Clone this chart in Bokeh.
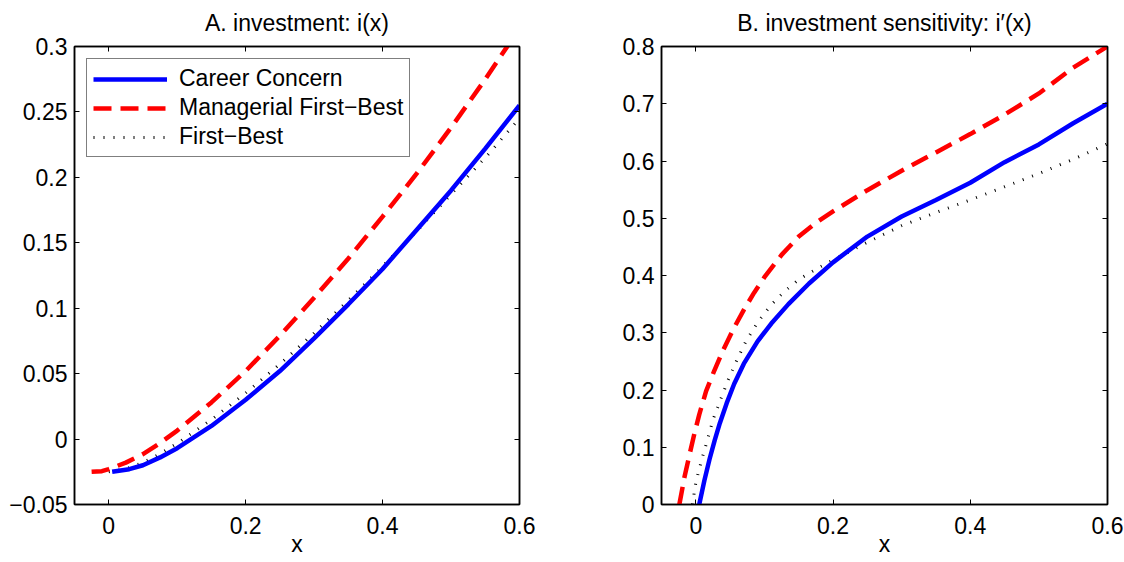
from bokeh.plotting import figure
from bokeh.layouts import row
from bokeh.models import Range1d, LinearAxis, FixedTicker, Legend, LegendItem
from bokeh.embed import file_html
from bokeh.resources import INLINE

# ---------------- data ----------------
x_ticks = [0, 0.2, 0.4, 0.6]
x_tick_labels = ["0", "0.2", "0.4", "0.6"]

a_y_ticks = [-0.05, 0, 0.05, 0.1, 0.15, 0.2, 0.25, 0.3]
a_y_tick_labels = ["\u22120.05", "0", "0.05", "0.1", "0.15", "0.2", "0.25", "0.3"]
b_y_ticks = [0, 0.1, 0.2, 0.3, 0.4, 0.5, 0.6, 0.7, 0.8]
b_y_tick_labels = ["0", "0.1", "0.2", "0.3", "0.4", "0.5", "0.6", "0.7", "0.8"]

title_a = "A. investment: i(x)"
title_b = "B. investment sensitivity: i\u2032(x)"
x_label = "x"
series_names = ["Career Concern", "Managerial First\u2212Best", "First\u2212Best"]

# Panel A: investment i(x)
a_cc_x = [0.005, 0.03, 0.05, 0.075, 0.1, 0.15, 0.2, 0.25, 0.3, 0.35, 0.4, 0.45, 0.5, 0.55, 0.6]
a_cc_y = [-0.025, -0.023, -0.020, -0.014, -0.007, 0.010, 0.030, 0.052, 0.077, 0.103, 0.130, 0.160, 0.190, 0.222, 0.255]
a_mfb_x = [-0.025, -0.01, 0, 0.025, 0.05, 0.075, 0.1, 0.15, 0.2, 0.25, 0.3, 0.35, 0.4, 0.45, 0.5, 0.55, 0.6]
a_mfb_y = [-0.025, -0.0245, -0.023, -0.018, -0.0115, -0.003, 0.0065, 0.028, 0.052, 0.079, 0.108, 0.138, 0.170, 0.203, 0.238, 0.275, 0.314]
a_fb_x = [0, 0.025, 0.05, 0.075, 0.1, 0.15, 0.2, 0.25, 0.3, 0.35, 0.4, 0.45, 0.5, 0.55, 0.6]
a_fb_y = [-0.025, -0.0227, -0.018, -0.0112, -0.0033, 0.0148, 0.0352, 0.0573, 0.081, 0.106, 0.132, 0.159, 0.187, 0.215, 0.245]

# Panel B: investment sensitivity i'(x)
b_cc_x = [0.005, 0.0125, 0.02, 0.0275, 0.035, 0.045, 0.056, 0.07, 0.09, 0.11, 0.135, 0.165, 0.2,
          0.25, 0.3, 0.35, 0.4, 0.45, 0.5, 0.55, 0.6]
b_cc_y = [0, 0.042, 0.079, 0.112, 0.142, 0.177, 0.211, 0.246, 0.285, 0.316, 0.350, 0.386, 0.423,
          0.468, 0.503, 0.532, 0.562, 0.598, 0.629, 0.666, 0.70]
b_mfb_x = [-0.024, -0.0165, -0.009, -0.002, 0.005, 0.015, 0.027, 0.04, 0.055, 0.07, 0.085, 0.1,
           0.125, 0.15, 0.175, 0.2, 0.25, 0.3, 0.35, 0.4, 0.45, 0.5, 0.55, 0.6]
b_mfb_y = [0, 0.048, 0.088, 0.124, 0.157, 0.198, 0.234, 0.27, 0.307, 0.34, 0.37, 0.397,
           0.436, 0.468, 0.492, 0.512, 0.549, 0.583, 0.615, 0.647, 0.681, 0.718, 0.763, 0.80]
b_fb_x = [-0.005, 0.0, 0.005, 0.01, 0.0175, 0.025, 0.037, 0.047, 0.059, 0.073, 0.09, 0.11, 0.13,
          0.15, 0.175, 0.2, 0.25, 0.3, 0.35, 0.4, 0.45, 0.5, 0.55, 0.6]
b_fb_y = [0, 0.038, 0.062, 0.084, 0.115, 0.148, 0.186, 0.217, 0.25, 0.285, 0.318, 0.349, 0.373,
          0.393, 0.411, 0.427, 0.458, 0.487, 0.51, 0.532, 0.555, 0.578, 0.603, 0.63]

# ---------------- styling ----------------
FONT = "Liberation Sans"
FS = "23px"


def make_fig(title, y_range, y_ticks, y_labels, width, b_left, b_right):
    p = figure(width=width, height=562,
               x_range=Range1d(-0.05, 0.6), y_range=Range1d(*y_range),
               output_backend="svg", toolbar_location=None,
               min_border_left=b_left, min_border_right=b_right,
               min_border_top=46, min_border_bottom=58,
               background_fill_color="white", border_fill_color="white")
    p.grid.visible = False
    p.outline_line_color = "black"
    p.outline_line_width = 1.5

    p.title.text = title
    p.title.align = "center"
    p.title.vertical_align = "top"
    p.title.text_font = FONT
    p.title.text_font_size = FS
    p.title.text_font_style = "normal"
    p.title.text_color = "black"
    p.title.standoff = 17

    xa = p.xaxis[0]
    xa.ticker = FixedTicker(ticks=x_ticks)
    xa.major_label_overrides = {t: l for t, l in zip(x_ticks, x_tick_labels)}
    xa.major_label_standoff = 12
    xa.axis_label = x_label
    xa.axis_label_text_font = FONT
    xa.axis_label_text_font_size = FS
    xa.axis_label_text_font_style = "normal"
    xa.axis_label_text_color = "black"
    xa.axis_label_standoff = -6

    ya = p.yaxis[0]
    ya.ticker = FixedTicker(ticks=y_ticks)
    ya.major_label_overrides = {t: l for t, l in zip(y_ticks, y_labels)}
    ya.major_label_standoff = 7

    for ax in (xa, ya):
        ax.major_label_text_font = FONT
        ax.major_label_text_font_size = FS
        ax.major_label_text_color = "black"
        ax.major_tick_in = 5
        ax.major_tick_out = 0
        ax.minor_tick_in = 0
        ax.minor_tick_out = 0
        ax.axis_line_width = 1.5
        ax.major_tick_line_width = 1

    top = LinearAxis(ticker=FixedTicker(ticks=x_ticks),
                     major_label_text_color=None, major_label_text_font_size="0px",
                     major_label_standoff=0, major_tick_in=5, major_tick_out=0,
                     minor_tick_in=0, minor_tick_out=0, axis_line_width=1.5)
    right = LinearAxis(ticker=FixedTicker(ticks=y_ticks),
                       major_label_text_color=None, major_label_text_font_size="0px",
                       major_label_standoff=0, major_tick_in=5, major_tick_out=0,
                       minor_tick_in=0, minor_tick_out=0, axis_line_width=1.5)
    p.add_layout(top, "above")
    p.add_layout(right, "right")
    return p


def add_series(p, cc, mfb, fb):
    r_fb = p.line(fb[0], fb[1], line_color="black", line_width=3,
                  line_dash="1 9", line_cap="butt")
    r_mfb = p.line(mfb[0], mfb[1], line_color="#ff0000", line_width=4.5,
                   line_dash="18 9", line_cap="butt")
    r_cc = p.line(cc[0], cc[1], line_color="#0000ff", line_width=4.5)
    return r_cc, r_mfb, r_fb


pa = make_fig(title_a, (-0.05, 0.3), a_y_ticks, a_y_tick_labels, 562, 74, 43)
ra = add_series(pa, (a_cc_x, a_cc_y), (a_mfb_x, a_mfb_y), (a_fb_x, a_fb_y))

legend = Legend(items=[LegendItem(label=n, renderers=[r]) for n, r in zip(series_names, ra)],
                location="top_left", margin=12, padding=6, spacing=2,
                glyph_width=74, glyph_height=26, label_standoff=12,
                label_text_font=FONT, label_text_font_size=FS, label_text_color="black",
                border_line_color="black", border_line_width=1.2,
                background_fill_color="white", background_fill_alpha=1.0)
pa.add_layout(legend)

pb = make_fig(title_b, (0, 0.8), b_y_ticks, b_y_tick_labels, 562, 99, 17)
add_series(pb, (b_cc_x, b_cc_y), (b_mfb_x, b_mfb_y), (b_fb_x, b_fb_y))

layout = row(pa, pb)
open("out.html", "w").write(file_html(layout, INLINE))
